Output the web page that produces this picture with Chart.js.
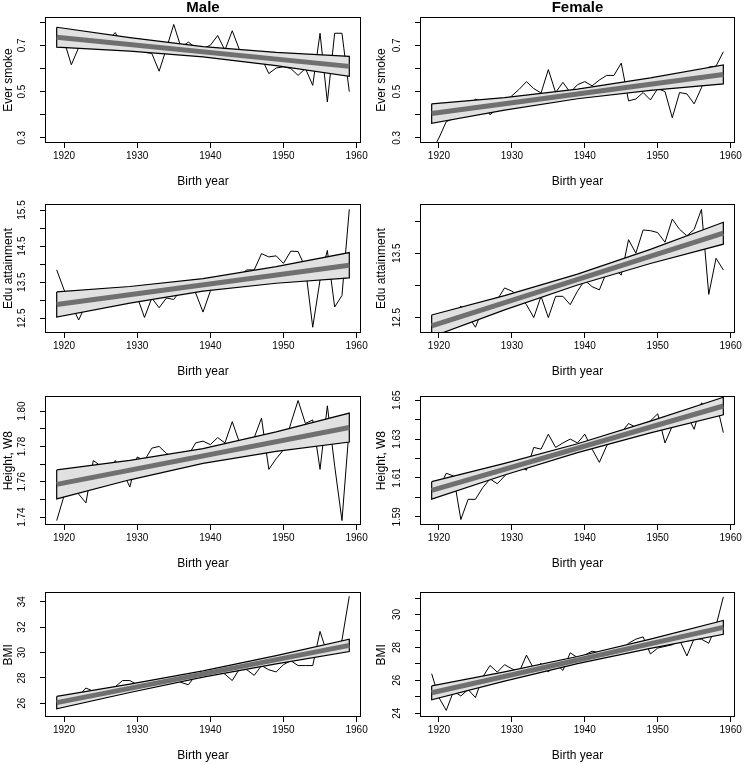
<!DOCTYPE html>
<html>
<head>
<meta charset="utf-8">
<script src="https://cdn.jsdelivr.net/npm/chart.js@4.4.0/dist/chart.umd.min.js"></script>
<style>
    body { margin: 0; background: #fff; }
    #wrap { position: relative; width: 746px; height: 765px; overflow: hidden; font-family: "Liberation Sans", Arial, sans-serif; }
    .cell { position: absolute; width: 373px; height: 191px; }
    .head { position: absolute; top: -1px; z-index: 5; font-weight: bold; font-size: 15px; line-height: 15px; text-align: center; color: #000; }
</style>
</head>
<body>
<div id="wrap">
    <div class="head" style="left:45px;width:316px">Male</div>
    <div class="head" style="left:420px;width:315px">Female</div>
    <div class="cell" style="left:0;top:0"><canvas id="chart-male-smoke" width="373" height="191"></canvas></div>
    <div class="cell" style="left:373px;top:0"><canvas id="chart-female-smoke" width="373" height="191"></canvas></div>
    <div class="cell" style="left:0;top:190px"><canvas id="chart-male-edu" width="373" height="191"></canvas></div>
    <div class="cell" style="left:373px;top:190px"><canvas id="chart-female-edu" width="373" height="191"></canvas></div>
    <div class="cell" style="left:0;top:382px"><canvas id="chart-male-height" width="373" height="191"></canvas></div>
    <div class="cell" style="left:373px;top:382px"><canvas id="chart-female-height" width="373" height="191"></canvas></div>
    <div class="cell" style="left:0;top:574px"><canvas id="chart-male-bmi" width="373" height="191"></canvas></div>
    <div class="cell" style="left:373px;top:574px"><canvas id="chart-female-bmi" width="373" height="191"></canvas></div>
</div>
<script>
let years = [1919, 1920, 1921, 1922, 1923, 1924, 1925, 1926, 1927, 1928,
    1929, 1930, 1931, 1932, 1933, 1934, 1935, 1936, 1937, 1938,
    1939, 1940, 1941, 1942, 1943, 1944, 1945, 1946, 1947, 1948,
    1949, 1950, 1951, 1952, 1953, 1954, 1955, 1956, 1957, 1958, 1959];
let xTicks = [1920, 1930, 1940, 1950, 1960];
let fitYears = [1919, 1959];
let bandYears = [1919, 1929, 1939, 1949, 1959];

// yearly means
let maleSmoke = [0.76, 0.72, 0.616, 0.69, 0.72, 0.70, 0.69, 0.72, 0.755, 0.70,
    0.69, 0.685, 0.67, 0.665, 0.588, 0.686, 0.79, 0.69, 0.714, 0.69,
    0.686, 0.70, 0.742, 0.679, 0.763, 0.679, 0.665, 0.66, 0.645, 0.578,
    0.602, 0.607, 0.60, 0.57, 0.60, 0.527, 0.752, 0.455, 0.752, 0.752, 0.50];
let femaleSmoke = [0.24, 0.30, 0.37, 0.384, 0.41, 0.426, 0.468, 0.454, 0.40, 0.426,
    0.454, 0.482, 0.51, 0.543, 0.513, 0.494, 0.595, 0.496, 0.54, 0.496,
    0.53, 0.543, 0.525, 0.55, 0.57, 0.57, 0.623, 0.46, 0.468, 0.496,
    0.464, 0.513, 0.50, 0.387, 0.496, 0.49, 0.447, 0.517, 0.606, 0.61, 0.672];
let maleEdu = [13.84, 13.29, 12.88, 12.45, 12.88, 12.93, 13.06, 13.1, 13.0, 13.1,
    13.29, 13.1, 12.52, 13.06, 12.79, 13.06, 13.02, 13.29, 13.38, 13.2,
    12.67, 13.25, 13.52, 13.55, 13.6, 13.7, 13.84, 13.84, 14.29, 14.2,
    14.23, 14.02, 14.36, 14.35, 13.9, 12.25, 13.56, 14.38, 12.81, 13.13, 15.52];
let femaleEdu = [12.35, 12.3, 12.45, 12.53, 12.68, 12.53, 12.35, 12.63, 12.7, 12.78,
    12.96, 12.91, 12.83, 12.7, 12.5, 12.83, 12.5, 12.83, 12.83, 12.7,
    12.91, 13.08, 12.98, 12.93, 13.21, 13.26, 13.16, 13.71, 13.5, 13.86,
    13.85, 13.82, 13.67, 14.03, 13.87, 13.77, 13.87, 14.18, 12.86, 13.42, 13.24];
let maleHeight = [1.738, 1.752, 1.758, 1.753, 1.748, 1.772, 1.769, 1.763, 1.772, 1.766,
    1.757, 1.774, 1.772, 1.779, 1.780, 1.776, 1.774, 1.775, 1.775, 1.782,
    1.783, 1.781, 1.785, 1.782, 1.794, 1.782, 1.783, 1.785, 1.796, 1.767,
    1.773, 1.778, 1.793, 1.806, 1.793, 1.795, 1.767, 1.803, 1.769, 1.738, 1.791];
let femaleHeight = [1.602, 1.6045, 1.6124, 1.611, 1.5886, 1.599, 1.599, 1.605, 1.6095, 1.607,
    1.611, 1.6146, 1.616, 1.614, 1.6257, 1.6248, 1.6325, 1.6257, 1.628, 1.630,
    1.628, 1.6325, 1.6248, 1.618, 1.6265, 1.6316, 1.6333, 1.638, 1.636, 1.6376,
    1.6393, 1.643, 1.628, 1.6367, 1.6418, 1.6427, 1.635, 1.6486, 1.6452, 1.6495, 1.6333];
let maleBmi = [25.9, 26.1, 26.4, 26.6, 27.2, 26.95, 27.0, 27.1, 27.3, 27.79,
    27.79, 27.46, 27.6, 27.7, 27.8, 27.9, 28.0, 27.64, 27.46, 28.2,
    28.35, 28.5, 28.6, 28.29, 27.79, 28.72, 28.64, 28.2, 28.97, 28.64,
    28.47, 29.04, 29.35, 28.97, 28.97, 28.97, 31.66, 29.85, 30.2, 30.98, 34.43];
let femaleBmi = [26.4, 24.95, 24.17, 25.34, 25.05, 25.44, 24.95, 26.2, 26.9, 26.5,
    26.95, 26.7, 26.5, 27.53, 26.7, 27.03, 26.5, 27.03, 26.6, 27.67,
    27.38, 27.53, 27.77, 27.67, 27.38, 27.67, 27.86, 28.25, 28.5, 28.64,
    27.6, 27.96, 28.06, 28.16, 28.45, 27.48, 28.54, 28.5, 28.25, 29.32, 31.07];

// fitted trend (1919, 1959) and confidence band at bandYears
let maleSmokeFit = [0.735, 0.609];
let maleSmokeUpper = [0.778, 0.733, 0.694, 0.669, 0.652];
let maleSmokeLower = [0.692, 0.675, 0.650, 0.612, 0.566];
let femaleSmokeFit = [0.405, 0.574];
let femaleSmokeUpper = [0.447, 0.474, 0.511, 0.559, 0.615];
let femaleSmokeLower = [0.363, 0.420, 0.469, 0.505, 0.533];
let maleEduFit = [12.88, 13.97];
let maleEduUpper = [13.23, 13.38, 13.60, 13.93, 14.32];
let maleEduLower = [12.53, 12.92, 13.25, 13.47, 13.62];
let femaleEduFit = [12.37, 13.81];
let femaleEduUpper = [12.54, 12.84, 13.175, 13.56, 13.98];
let femaleEduLower = [12.20, 12.62, 13.005, 13.34, 13.64];
let maleHeightFit = [1.7585, 1.7907];
let maleHeightUpper = [1.7667, 1.7721, 1.7788, 1.7882, 1.7989];
let maleHeightLower = [1.7503, 1.7611, 1.7704, 1.7772, 1.7825];
let femaleHeightFit = [1.6036, 1.647];
let femaleHeightUpper = [1.6081, 1.6175, 1.6276, 1.6392, 1.6515];
let femaleHeightLower = [1.5991, 1.6115, 1.6230, 1.6332, 1.6425];
let maleBmiFit = [26.05, 30.56];
let maleBmiUpper = [26.54, 27.51, 28.555, 29.76, 31.05];
let maleBmiLower = [25.56, 26.85, 28.055, 29.10, 30.07];
let femaleBmiFit = [25.24, 29.22];
let femaleBmiUpper = [25.66, 26.515, 27.445, 28.505, 29.64];
let femaleBmiLower = [24.82, 25.955, 27.015, 27.945, 28.80];

// y axis ticks and labels
let smokeTicks = [0.3, 0.4, 0.5, 0.6, 0.7, 0.8];
let smokeLabels = ['0.3', '', '0.5', '', '0.7', ''];
let maleEduTicks = [12.5, 13, 13.5, 14, 14.5, 15, 15.5];
let maleEduLabels = ['12.5', '', '13.5', '', '14.5', '', '15.5'];
let femaleEduTicks = [12.5, 13, 13.5, 14];
let femaleEduLabels = ['12.5', '', '13.5', ''];
let maleHeightTicks = [1.74, 1.75, 1.76, 1.77, 1.78, 1.79, 1.80];
let maleHeightLabels = ['1.74', '', '1.76', '', '1.78', '', '1.80'];
let femaleHeightTicks = [1.59, 1.60, 1.61, 1.62, 1.63, 1.64, 1.65];
let femaleHeightLabels = ['1.59', '', '1.61', '', '1.63', '', '1.65'];
let maleBmiTicks = [26, 28, 30, 32, 34];
let maleBmiLabels = ['26', '28', '30', '32', '34'];
let femaleBmiTicks = [24, 25, 26, 27, 28, 29, 30, 31];
let femaleBmiLabels = ['24', '', '26', '', '28', '', '30', ''];

let fontFamily = '"Liberation Sans", Arial, sans-serif';

let boxPlugin = {
    id: 'box',
    afterDraw: function (chart) {
        let a = chart.chartArea;
        let ctx = chart.ctx;
        ctx.save();
        ctx.strokeStyle = '#000';
        ctx.lineWidth = 1;
        ctx.strokeRect(Math.round(a.left) + 0.5, Math.round(a.top) + 0.5,
            Math.round(a.right - a.left) - 1, Math.round(a.bottom - a.top) - 1);
        ctx.restore();
    }
};

function points(xs, ys) {
    let out = [];
    for (let i = 0; i < xs.length; i++) {
        out.push({ x: xs[i], y: ys[i] });
    }
    return out;
}

// closed outline: along the upper bound, back along the lower bound
function bandShape(upper, lower) {
    let out = points(bandYears, upper);
    for (let i = bandYears.length - 1; i >= 0; i--) {
        out.push({ x: bandYears[i], y: lower[i] });
    }
    out.push({ x: bandYears[0], y: upper[0] });
    return out;
}

function tickPadding(labels) {
    let ctx = document.createElement('canvas').getContext('2d');
    ctx.font = '10px ' + fontFamily;
    let w = 0;
    for (let i = 0; i < labels.length; i++) {
        w = Math.max(w, ctx.measureText(labels[i]).width);
    }
    return 18 - w / 2;
}

function setPanel(id, right, values, fit, upper, lower, yTitle, yMin, yMax, yTicks, yLabels) {
    new Chart(document.getElementById(id), {
        type: 'line',
        data: {
            datasets: [{
                data: points(years, values),
                borderColor: '#000',
                borderWidth: 1,
                pointRadius: 0,
                order: 3
            }, {
                data: bandShape(upper, lower),
                borderColor: '#000',
                borderWidth: 1.2,
                pointRadius: 0,
                fill: 'shape',
                backgroundColor: '#e1e1e1',
                order: 2
            }, {
                data: points(fitYears, fit),
                borderColor: '#707070',
                borderWidth: 5,
                pointRadius: 0,
                order: 1
            }]
        },
        options: {
            responsive: false,
            animation: false,
            layout: { padding: { top: 13, right: right ? 11 : 12, left: 0, bottom: 0 } },
            plugins: { legend: { display: false }, tooltip: { enabled: false } },
            scales: {
                x: {
                    type: 'linear',
                    min: 1917.4,
                    max: 1960.6,
                    afterBuildTicks: function (s) { s.ticks = xTicks.map(v => ({ value: v })); },
                    afterFit: function (s) { s.height = 48; },
                    border: { display: false },
                    grid: { drawOnChartArea: false, tickLength: 5, color: '#000', tickColor: '#000' },
                    ticks: {
                        color: '#000', padding: 2, maxRotation: 0, autoSkip: false,
                        font: { family: fontFamily, size: 10 },
                        callback: function (v) { return String(v); }
                    },
                    title: {
                        display: true, text: 'Birth year', color: '#000',
                        font: { family: fontFamily, size: 12 }, padding: { top: 0, bottom: 2 }
                    }
                },
                y: {
                    type: 'linear',
                    min: yMin,
                    max: yMax,
                    afterBuildTicks: function (s) { s.ticks = yTicks.map(v => ({ value: v })); },
                    afterFit: function (s) { s.width = right ? 47 : 45; },
                    border: { display: false },
                    grid: { drawOnChartArea: false, tickLength: 5, color: '#000', tickColor: '#000' },
                    ticks: {
                        color: '#000', minRotation: 90, maxRotation: 90, autoSkip: false,
                        crossAlign: 'center', padding: tickPadding(yLabels),
                        font: { family: fontFamily, size: 10 },
                        callback: function (v, i) { return yLabels[i]; }
                    },
                    title: {
                        display: true, text: yTitle, color: '#000',
                        font: { family: fontFamily, size: 12 }, padding: { top: 1, bottom: 0 }
                    }
                }
            }
        },
        plugins: [boxPlugin]
    });
}

setPanel('chart-male-smoke', false, maleSmoke, maleSmokeFit, maleSmokeUpper, maleSmokeLower,
    'Ever smoke', 0.278, 0.822, smokeTicks, smokeLabels);
setPanel('chart-female-smoke', true, femaleSmoke, femaleSmokeFit, femaleSmokeUpper, femaleSmokeLower,
    'Ever smoke', 0.278, 0.822, smokeTicks, smokeLabels);
setPanel('chart-male-edu', false, maleEdu, maleEduFit, maleEduUpper, maleEduLower,
    'Edu attainment', 12.09, 15.66, maleEduTicks, maleEduLabels);
setPanel('chart-female-edu', true, femaleEdu, femaleEduFit, femaleEduUpper, femaleEduLower,
    'Edu attainment', 12.26, 14.26, femaleEduTicks, femaleEduLabels);
setPanel('chart-male-height', false, maleHeight, maleHeightFit, maleHeightUpper, maleHeightLower,
    'Height, W8', 1.7355, 1.8084, maleHeightTicks, maleHeightLabels);
setPanel('chart-female-height', true, femaleHeight, femaleHeightFit, femaleHeightUpper, femaleHeightLower,
    'Height, W8', 1.5858, 1.652, femaleHeightTicks, femaleHeightLabels);
setPanel('chart-male-bmi', false, maleBmi, maleBmiFit, maleBmiUpper, maleBmiLower,
    'BMI', 24.92, 34.73, maleBmiTicks, maleBmiLabels);
setPanel('chart-female-bmi', true, femaleBmi, femaleBmiFit, femaleBmiUpper, femaleBmiLower,
    'BMI', 23.77, 31.34, femaleBmiTicks, femaleBmiLabels);
</script>
</body>
</html>
